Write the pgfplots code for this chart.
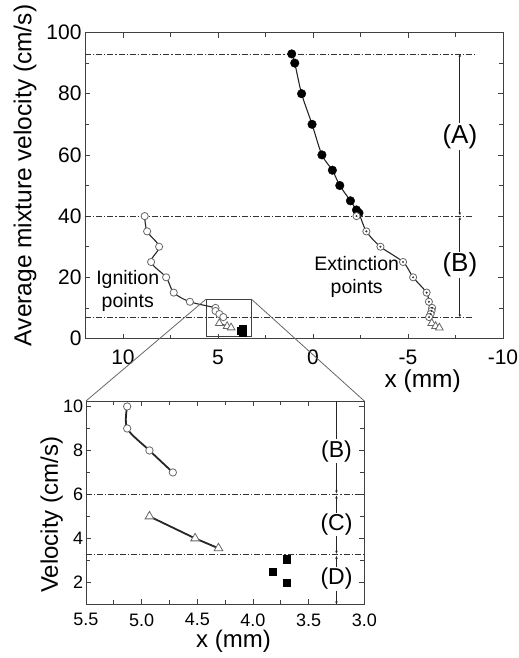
\documentclass[border=0pt]{standalone}
\usepackage{fontspec}
\setmainfont{Liberation Sans}
\usepackage{pgfplots}
\pgfplotsset{compat=1.18}
\usetikzlibrary{arrows.meta}
\definecolor{axcol}{gray}{0.25}
\definecolor{mkcol}{gray}{0.4}
\pgfplotsset{
  myaxis/.style={
    scale only axis, clip=false, tick align=inside,
    major tick length=5bp, minor tick length=4bp,
    axis line style={line width=0.9bp, axcol},
    every tick/.style={line width=0.8bp, axcol},
    /pgf/number format/assume math mode=true,
  },
}
\tikzset{dd/.style={line width=0.8bp, black!80, dash pattern=on 6bp off 2bp on 1.2bp off 2bp}}
\begin{document}
\begin{tikzpicture}
%================ TOP AXIS =================
\begin{axis}[myaxis, name=top,
  at={(85bp,-338.5bp)}, anchor=south west,
  width=418bp, height=306bp,
  xmin=-10, xmax=12, x dir=reverse, ymin=0, ymax=100,
  xtick={-10,-5,0,5,10}, minor xtick={-7.5,-2.5,2.5,7.5},
  ytick={0,20,40,60,80,100}, minor ytick={10,30,50,70,90},
  tick label style={font=\fontsize{21bp}{21bp}\selectfont, inner sep=0pt},
  xticklabel style={yshift=-11.5bp},
  yticklabel style={xshift=-3.3bp},
  xlabel={x (mm)},
  xlabel style={at={(axis description cs:0.808,0)}, anchor=center, yshift=-43bp,
    font=\fontsize{24.5bp}{24.5bp}\selectfont, inner sep=0pt},
  ylabel={Average mixture velocity (cm/s)},
  ylabel style={at={(axis description cs:-0.1435,0.533)}, anchor=center,
    font=\fontsize{24.5bp}{24.5bp}\selectfont, inner sep=0pt},
]
% dash-dot level lines and arrows
\draw[dd] (axis cs:12,93) -- (axis cs:-8.55,93);
\draw[dd] (axis cs:12,40) -- (axis cs:-8.45,40);
\draw[dd] (axis cs:12,7) -- (axis cs:-8.45,7);
\draw[line width=0.9bp, black!85, {Stealth[length=3bp,width=2.5bp]}-{Stealth[length=3bp,width=2.5bp]}] (axis cs:-7.73,93) -- (axis cs:-7.73,40.3);
\draw[line width=0.9bp, black!85, {Stealth[length=3bp,width=2.5bp]}-{Stealth[length=3bp,width=2.5bp]}] (axis cs:-7.73,39.7) -- (axis cs:-7.73,7);
\node[fill=white, inner sep=1bp, font=\fontsize{26bp}{26bp}\selectfont] at (axis cs:-7.73,66) {(A)};
\node[fill=white, inner sep=1bp, font=\fontsize{26bp}{26bp}\selectfont] at (axis cs:-7.73,24) {(B)};
% texts
\node[align=center, font=\fontsize{19.5bp}{23bp}\selectfont] at (axis cs:9.75,15.4) {Ignition\\points};
\node[align=center, font=\fontsize{19.5bp}{23bp}\selectfont] at (axis cs:-2.3,20) {Extinction\\points};
% zoom rectangle
\draw[line width=0.8bp, axcol] (axis cs:5.62,0.8) rectangle (axis cs:3.25,12.9);
\coordinate (rTL) at (axis cs:5.62,12.9);
\coordinate (rTR) at (axis cs:3.25,12.9);
% extinction curve
\addplot[line width=1.1bp, black!85, smooth, tension=0.5] coordinates {
 (1.12,93)(0.96,90)(0.60,80)(0.05,70)(-0.47,60)(-1.02,55)(-1.41,50)(-1.97,45)(-2.29,42)(-2.42,41)
 (-2.81,35)(-3.55,30)(-4.74,25)(-5.27,20)(-5.98,15)(-6.10,12)(-6.27,10)(-6.24,9)(-6.19,8)(-6.11,7)};
\addplot[line width=1.1bp, black!85] coordinates {(-6.25,5)(-6.45,4)(-6.65,3.5)};
% ignition curve
\addplot[line width=1.1bp, black!85, smooth, tension=0.5] coordinates {
 (8.86,40)(8.73,35)(8.10,30)(8.52,25)(7.73,20)(7.33,15)(6.48,12)(5.13,10)(5.13,9)(4.93,8)(4.72,7)};
\addplot[line width=1.1bp, black!85] coordinates {(4.93,5)(4.52,4)(4.31,3.55)};
% markers
\addplot[only marks, mark=*, mark size=4.3bp, black] coordinates {
 (1.12,93)(0.96,90)(0.60,80)(0.05,70)(-0.47,60)(-1.02,55)(-1.41,50)(-1.97,45)(-2.29,42)(-2.42,41)};
\addplot[only marks, mark=*, mark size=3.6bp, mark options={draw=mkcol, fill=white, line width=0.8bp}] coordinates {
 (-2.29,40)(-2.81,35)(-3.55,30)(-4.74,25)(-5.27,20)(-5.98,15)(-6.10,12)(-6.27,10)(-6.24,9)(-6.19,8)(-6.11,7)};
\addplot[only marks, mark=*, mark size=0.9bp, mark options={draw=black!80, fill=black!80, line width=0.2bp}] coordinates {
 (-2.29,40)(-2.81,35)(-3.55,30)(-4.74,25)(-5.27,20)(-5.98,15)(-6.10,12)(-6.27,10)(-6.24,9)(-6.19,8)(-6.11,7)};
\addplot[only marks, mark=*, mark size=3.6bp, mark options={draw=mkcol, fill=white, line width=0.8bp}] coordinates {
 (8.86,40)(8.73,35)(8.10,30)(8.52,25)(7.73,20)(7.33,15)(6.48,12)(5.13,10)(5.13,9)(4.93,8)(4.72,7)};
\addplot[only marks, mark=triangle*, mark size=4.5bp, mark options={draw=mkcol, fill=white, line width=0.8bp}] coordinates {
 (-6.25,5)(-6.45,4)(-6.65,3.5)(4.93,5)(4.52,4)(4.31,3.55)};
\addplot[only marks, mark=square*, mark size=3.6bp, black] coordinates {(3.82,2.5)(3.7,3.05)(3.7,2.0)};
\end{axis}
%================ BOTTOM AXIS =================
\begin{axis}[myaxis, name=bot,
  at={(86bp,-604.3bp)}, anchor=south west,
  width=278.3bp, height=203.3bp,
  xmin=3, xmax=5.5, x dir=reverse, ymin=1, ymax=10.25,
  xtick={3,3.5,4,4.5,5,5.5}, minor xtick={3.25,3.75,4.25,4.75,5.25},
  ytick={2,4,6,8,10}, minor ytick={3,5,7,9},
  tick label style={font=\fontsize{18bp}{18bp}\selectfont, inner sep=0pt},
  xticklabel style={yshift=-9bp, /pgf/number format/fixed, /pgf/number format/fixed zerofill, /pgf/number format/precision=1},
  yticklabel style={xshift=-2.7bp},
  xlabel={x (mm)},
  xlabel style={at={(axis description cs:0.53,0)}, anchor=center, yshift=-37bp,
    font=\fontsize{24bp}{24bp}\selectfont, inner sep=0pt},
  ylabel={Velocity (cm/s)},
  ylabel style={at={(axis description cs:-0.123,0.44)}, anchor=center,
    font=\fontsize{24bp}{24bp}\selectfont, inner sep=0pt},
]
\draw[dd] (axis cs:5.5,6) -- (axis cs:3,6);
\draw[dd] (axis cs:5.5,3.25) -- (axis cs:3,3.25);
\draw[line width=0.9bp, black!85, -{Stealth[length=3bp,width=2.5bp]}] (axis cs:3.25,10.25) -- (axis cs:3.25,6.05);
\draw[line width=0.9bp, black!85, {Stealth[length=3bp,width=2.5bp]}-{Stealth[length=3bp,width=2.5bp]}] (axis cs:3.25,5.95) -- (axis cs:3.25,3.3);
\draw[line width=0.9bp, black!85, {Stealth[length=3bp,width=2.5bp]}-{Stealth[length=3bp,width=2.5bp]}] (axis cs:3.25,3.2) -- (axis cs:3.25,1);
\node[fill=white, inner sep=1bp, font=\fontsize{23bp}{23bp}\selectfont] at (axis cs:3.25,7.97) {(B)};
\node[fill=white, inner sep=1bp, font=\fontsize{23bp}{23bp}\selectfont] at (axis cs:3.25,4.64) {(C)};
\node[fill=white, inner sep=1bp, font=\fontsize{23bp}{23bp}\selectfont] at (axis cs:3.25,2.15) {(D)};
\addplot[line width=1.8bp, black!85, smooth, tension=0.5] coordinates {(5.13,10)(5.13,9)(4.93,8)(4.72,7)};
\addplot[line width=1.8bp, black!85] coordinates {(4.93,5)(4.52,4)(4.31,3.55)};
\addplot[only marks, mark=*, mark size=3.7bp, mark options={draw=mkcol, fill=white, line width=0.8bp}] coordinates {(5.13,10)(5.13,9)(4.93,8)(4.72,7)};
\addplot[only marks, mark=triangle*, mark size=5bp, mark options={draw=mkcol, fill=white, line width=0.8bp}] coordinates {(4.93,5)(4.52,4)(4.31,3.55)};
\addplot[only marks, mark=square*, mark size=3.6bp, black] coordinates {(3.82,2.5)(3.7,3.05)(3.7,2.0)};
\end{axis}
% zoom connector lines
\draw[line width=0.8bp, mkcol] (rTL) -- (bot.north west);
\draw[line width=0.8bp, mkcol] (rTR) -- (bot.north east);
\pgfresetboundingbox
\path[use as bounding box] (0bp,0bp) rectangle (519bp,-658bp);
\end{tikzpicture}
\end{document}
